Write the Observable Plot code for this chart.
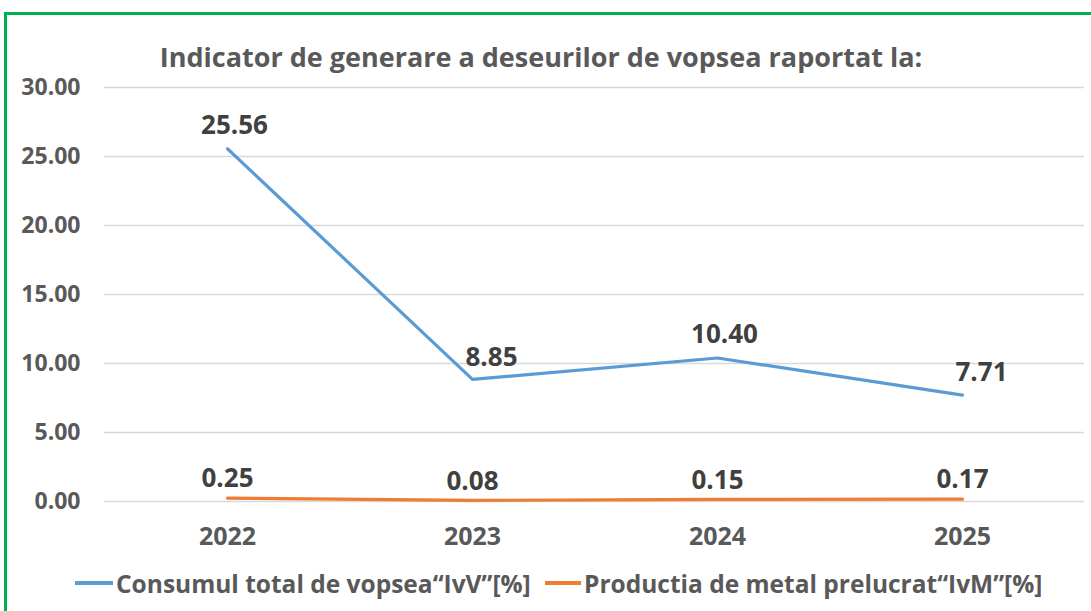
<!DOCTYPE html>
<html>
<head>
<meta charset="utf-8">
<script src="https://cdn.jsdelivr.net/npm/d3@7"></script>
<script src="https://cdn.jsdelivr.net/npm/@observablehq/plot@0.6"></script>
<style>
  html, body { margin: 0; padding: 0; background: #fff; }
  body { width: 1091px; height: 611px; position: relative; overflow: hidden; font-family: "Open Sans", sans-serif; }
  #frameTop { position: absolute; left: 4px; top: 12px; width: 1087px; height: 3px; background: #00B050; }
  #frameLeft { position: absolute; left: 4px; top: 12px; width: 3px; height: 599px; background: #00B050; }
  #title { position: absolute; left: 0; width: 1082px; top: 37px; text-align: center; font-weight: 700; font-size: 27px; color: #595959; line-height: 40px; }
  #chart { position: absolute; left: 0; top: 70px; }
  #legend { position: absolute; left: 0; top: 565px; width: 1091px; height: 36px; font-weight: 700; font-size: 24.5px; color: #595959; }
  .item { position: absolute; top: 0; display: flex; align-items: center; height: 36px; white-space: nowrap; }
  .sw { display: inline-block; height: 4px; margin-right: 3px; }
</style>
</head>
<body>
<div id="frameTop"></div>
<div id="frameLeft"></div>
<div id="title"></div>
<div id="chart"></div>
<div id="legend"></div>
<script>
const titleText = "Indicator de generare a deseurilor de vopsea raportat la:";
const years = ["2022", "2023", "2024", "2025"];
const seriesNames = ["Consumul total de vopsea\u201cIvV\u201d[%]", "Productia de metal prelucrat\u201cIvM\u201d[%]"];
const ivv = [25.56, 8.85, 10.40, 7.71];
const ivm = [0.25, 0.08, 0.15, 0.17];
const yTicks = [0, 5, 10, 15, 20, 25, 30];
const colors = ["#5B9BD5", "#ED7D31"];

const rowsV = years.map((y, i) => ({year: y, value: ivv[i], series: seriesNames[0]}));
const rowsM = years.map((y, i) => ({year: y, value: ivm[i], series: seriesNames[1]}));
const fmt = d3.format(".2f");

document.getElementById("title").textContent = titleText;

const plot = Plot.plot({
  width: 1091,
  height: 485,
  marginLeft: 104,
  marginRight: 7,
  marginTop: 17,
  marginBottom: 54,
  style: {fontFamily: "'Open Sans', sans-serif", fontSize: "23px", fontWeight: "bold", background: "transparent"},
  x: {type: "point", domain: years, padding: 0.5},
  y: {domain: [0, 30]},
  marks: [
    Plot.gridY(yTicks, {stroke: "#d9d9d9", strokeOpacity: 1, strokeWidth: 1.3}),
    Plot.axisY(yTicks, {tickSize: 0, tickPadding: 24, tickFormat: fmt, fill: "#595959", label: null, fontSize: 23}),
    Plot.axisX({tickSize: 0, tickPadding: 26, fill: "#595959", label: null, fontSize: 25}),
    Plot.line(rowsV, {x: "year", y: "value", stroke: colors[0], strokeWidth: 3.2}),
    Plot.line(rowsM, {x: "year", y: "value", stroke: colors[1], strokeWidth: 3.2}),
    Plot.text(rowsV.filter((d, i) => i % 2 === 0), {x: "year", y: "value", text: d => fmt(d.value), dy: -23, dx: 7, fill: "#404040", fontSize: 26}),
    Plot.text(rowsV.filter((d, i) => i % 2 === 1), {x: "year", y: "value", text: d => fmt(d.value), dy: -22, dx: 19, fill: "#404040", fontSize: 26}),
    Plot.text(rowsM, {x: "year", y: "value", text: d => fmt(d.value), dy: -19, fill: "#404040", fontSize: 26})
  ]
});
document.getElementById("chart").appendChild(plot);

const legend = document.getElementById("legend");
const lefts = [75, 545];
seriesNames.forEach((name, i) => {
  const it = document.createElement("div");
  it.className = "item";
  it.style.left = lefts[i] + "px";
  const sw = document.createElement("span");
  sw.className = "sw";
  sw.style.background = colors[i];
  sw.style.width = (i === 0 ? 38 : 36) + "px";
  const tx = document.createElement("span");
  tx.textContent = name;
  it.appendChild(sw);
  it.appendChild(tx);
  legend.appendChild(it);
});
</script>
</body>
</html>
